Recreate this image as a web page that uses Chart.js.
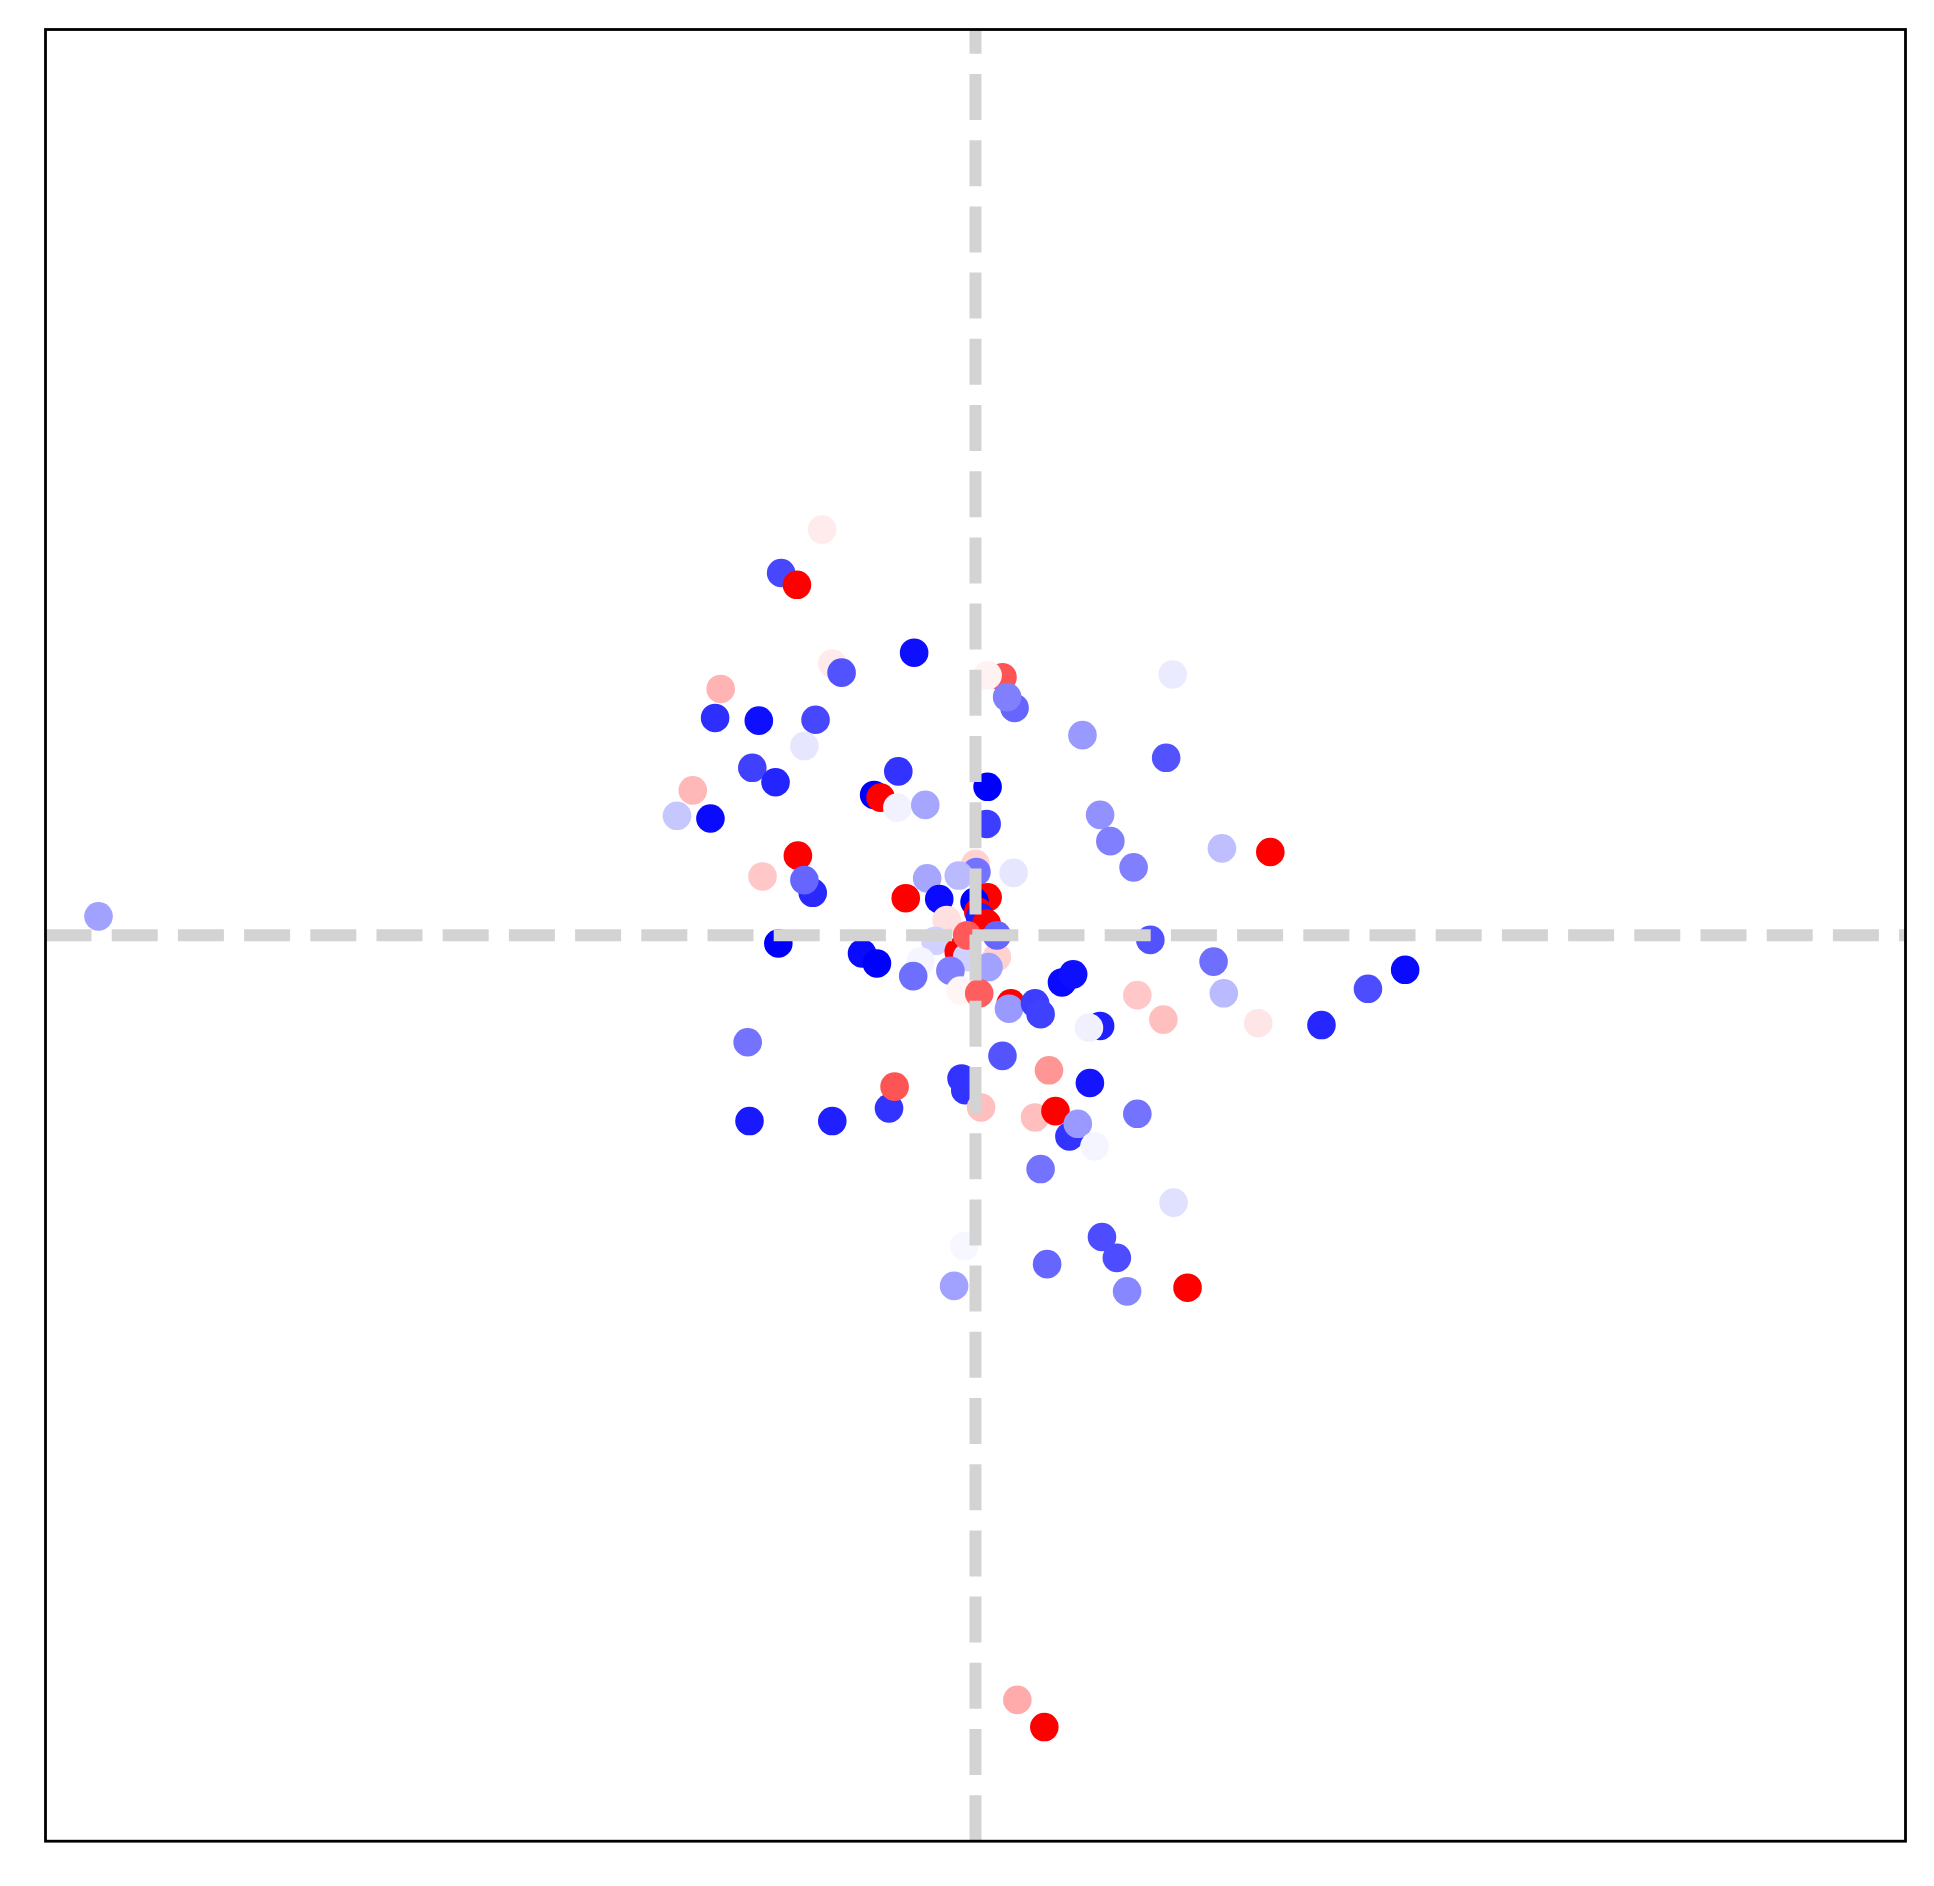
<!DOCTYPE html>
<html>
<head>
<meta charset="utf-8">
<title>Scatter</title>
<script src="https://cdn.jsdelivr.net/npm/chart.js@4/dist/chart.umd.min.js"></script>
<style>
	html, body { margin: 0; padding: 0; background: #ffffff; }
	#wrap { width: 1934px; height: 1886px; }
</style>
</head>
<body>
<div id="wrap"><canvas id="scatterChart" width="1934" height="1886"></canvas></div>
<script>
// Point positions (x, y) and the value that drives the blue-white-red colour
const xValues = [
	-0.165, -0.209, -0.192, -0.066, -0.154, -0.144, -0.274, -0.280, -0.233, -0.172,
	-0.184, -0.240, -0.215, -0.083, -0.304, -0.321, -0.285, -0.109, -0.102, -0.084,
	-0.054, 0.029, 0.013, 0.042, 0.034, 0.115, 0.013, 0.012, -0.191, -0.175,
	-0.184, 0.212, 0.205, 0.134, 0.145, 0.170, 0.265, 0.317, 0.041, 0.188,
	0.256, 0.267, 0.174, 0.202, 0.304, 0.372, 0.422, 0.462, -0.229, 0.000,
	0.001, -0.018, -0.052, 0.013, -0.001, 0.003, 0.005, -0.039, -0.075, -0.031,
	0.012, -0.043, -0.018, -0.009, 0.023, -0.009, 0.023, 0.014, -0.059, -0.067,
	-0.027, -0.016, 0.004, -0.212, -0.122, -0.106, 0.038, 0.036, 0.064, 0.070,
	0.093, 0.105, 0.134, 0.122, -0.245, 0.029, -0.015, -0.011, 0.006, -0.093,
	-0.087, -0.243, -0.154, 0.079, 0.123, 0.064, 0.086, 0.101, 0.110, 0.128,
	0.174, 0.070, 0.213, 0.136, 0.152, 0.077, -0.012, -0.023, 0.163, 0.228,
	0.045, 0.074, -0.943,
];
const yValues = [
	0.448, 0.400, 0.387, 0.312, 0.300, 0.290, 0.272, 0.240, 0.237, 0.238,
	0.209, 0.185, 0.169, 0.181, 0.160, 0.132, 0.129, 0.155, 0.152, 0.141,
	0.144, 0.285, 0.287, 0.251, 0.263, 0.221, 0.164, 0.123, 0.088, 0.047,
	0.061, 0.288, 0.196, 0.133, 0.104, 0.075, 0.096, 0.092, 0.069, -0.005,
	-0.029, -0.064, -0.066, -0.093, -0.097, -0.099, -0.059, -0.038, 0.065, 0.079,
	0.070, 0.066, 0.063, 0.042, 0.037, 0.026, 0.020, 0.040, 0.041, 0.017,
	0.013, -0.006, -0.018, -0.024, -0.024, 0.000, 0.000, -0.035, -0.029, -0.045,
	-0.039, -0.061, -0.064, -0.009, -0.020, -0.031, -0.075, -0.081, -0.075, -0.087,
	-0.052, -0.043, -0.100, -0.102, -0.118, -0.133, -0.158, -0.171, -0.190, -0.191,
	-0.167, -0.205, -0.205, -0.149, -0.163, -0.201, -0.194, -0.222, -0.208, -0.233,
	-0.197, -0.258, -0.295, -0.333, -0.356, -0.363, -0.343, -0.387, -0.393, -0.389,
	-0.844, -0.874, 0.021,
];
const colorValues = [
	0.08, -0.72, 1.00, -0.94, 0.08, -0.68, 0.30, -0.82, -0.94, -0.72,
	-0.10, -0.75, -0.86, -0.80, 0.28, -0.22, -0.96, -1.00, 1.00, -0.05,
	-0.35, 0.67, 0.05, -0.60, -0.50, -0.40, -1.00, -0.76, 1.00, -0.84,
	-0.60, -0.08, -0.68, -0.43, -0.50, -0.50, -0.25, 1.00, -0.10, -0.68,
	-0.57, -0.27, 0.22, 0.25, 0.10, -0.85, -0.70, -0.96, 0.22, 0.18,
	-0.55, -0.27, -0.35, 1.00, -1.00, 1.00, -0.88, -0.96, 1.00, 0.12,
	1.00, -0.18, 1.00, -0.18, 0.18, 0.65, -0.60, -0.37, -0.04, -0.57,
	-0.50, 0.04, 0.63, -1.00, -0.96, -1.00, 1.00, -0.40, -0.76, -0.75,
	-0.96, -0.94, -0.88, -0.06, -0.55, -0.67, -0.80, -0.80, 0.25, -0.80,
	0.67, -0.90, -0.88, 0.41, -0.92, 0.25, 1.00, -0.80, -0.40, -0.04,
	-0.55, -0.55, -0.12, -0.70, -0.70, -0.60, -0.03, -0.37, -0.47, 1.00,
	0.33, 1.00, -0.37,
];

// Axis limits (symmetric around zero)
const xLimits = [-1, 1];
const yLimits = [-1, 1];

// Map a value in [-1, 1] onto matplotlib's "bwr" colormap
function bwr(v) {
	let r, g, b;
	if (v < 0) {
		r = g = Math.round((1 + v) * 255);
		b = 255;
	} else {
		r = 255;
		g = b = Math.round((1 - v) * 255);
	}
	return `rgb(${r}, ${g}, ${b})`;
}

// Dashed zero lines drawn on top of the points, plus the black axes frame
const overlayPlugin = {
	id: "overlay",
	afterDatasetsDraw(chart) {
		const { ctx, chartArea, scales } = chart;
		const x0 = scales.x.getPixelForValue(0);
		const y0 = scales.y.getPixelForValue(0);
		ctx.save();
		ctx.strokeStyle = "#d3d3d3";
		ctx.lineWidth = 12;
		ctx.lineCap = "butt";
		ctx.setLineDash([46, 20.2]);
		ctx.beginPath();
		ctx.moveTo(chartArea.left, y0);
		ctx.lineTo(chartArea.right, y0);
		ctx.stroke();
		ctx.beginPath();
		ctx.moveTo(x0, chartArea.bottom);
		ctx.lineTo(x0, chartArea.top);
		ctx.stroke();
		ctx.setLineDash([]);
		ctx.strokeStyle = "#000000";
		ctx.lineWidth = 2.8;
		ctx.strokeRect(
			chartArea.left,
			chartArea.top,
			chartArea.right - chartArea.left,
			chartArea.bottom - chartArea.top,
		);
		ctx.restore();
	},
};

function createScatterChart() {
	const points = xValues.map((x, i) => ({ x: x, y: yValues[i] }));
	const ctx = document.getElementById("scatterChart").getContext("2d");
	new Chart(ctx, {
		type: "scatter",
		data: {
			datasets: [
				{
					data: points,
					backgroundColor: colorValues.map(bwr),
					borderWidth: 0,
					pointRadius: 14.3,
					pointHoverRadius: 14.3,
				},
			],
		},
		options: {
			responsive: false,
			animation: false,
			devicePixelRatio: 1,
			layout: {
				padding: { left: 45.5, right: 28.5, top: 29.5, bottom: 44.8 },
			},
			plugins: {
				legend: { display: false },
				tooltip: { enabled: false },
			},
			scales: {
				x: { type: "linear", min: xLimits[0], max: xLimits[1], display: false },
				y: { type: "linear", min: yLimits[0], max: yLimits[1], display: false },
			},
		},
		plugins: [overlayPlugin],
	});
}

window.addEventListener("load", createScatterChart);
</script>
</body>
</html>
